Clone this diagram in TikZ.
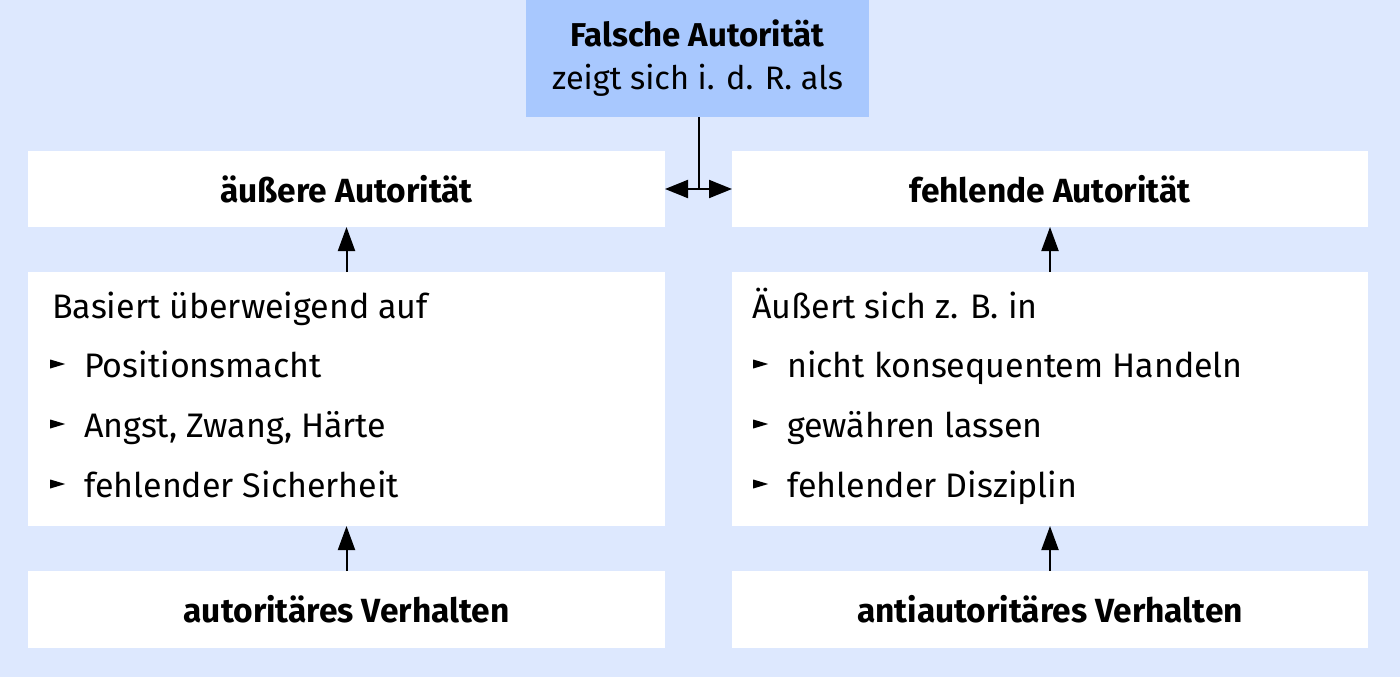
\documentclass[tikz,border=0pt]{standalone}
\usepackage{fontspec}
\setmainfont{Fira Sans}
\usetikzlibrary{arrows.meta}
\definecolor{bgblue}{RGB}{221,232,254}
\definecolor{topblue}{RGB}{168,200,254}
\newcommand\tri{\tikz[baseline=0pt]\fill (0,8.5pt) -- (15pt,13pt) -- (0,17.5pt) -- cycle;}
\begin{document}
\begin{tikzpicture}[x=1pt,y=-1pt,
  box/.style={fill=white,draw=none,inner sep=0pt,outer sep=0pt,minimum width=637pt},
  lbl/.style={font=\fontsize{33.5}{40}\selectfont\bfseries},
  txt/.style={font=\fontsize{34}{40}\selectfont,anchor=base west,inner sep=0pt},
  arr/.style={line width=2pt,-{Triangle[length=24pt,width=17pt]}},
  dbl/.style={line width=2pt,{Triangle[length=23pt,width=18pt]}-{Triangle[length=23pt,width=18pt]}}]
\fill[bgblue] (0,0) rectangle (1400,677);
\useasboundingbox (0,0) rectangle (1400,677);
\node[fill=topblue,inner sep=0pt,minimum width=343pt,minimum height=117pt,align=center,font=\fontsize{33}{43}\selectfont] (top) at (697.5,58.5)
  {\textbf{Falsche Autorität}\\ \fontsize{32.5}{43}\selectfont zeigt sich i. d. R. als};
\node[box,minimum height=76pt,lbl] (L1) at (346.5,189) {äußere Autorität};
\node[box,minimum height=76pt,lbl,minimum width=636pt] (R1) at (1050,189) {fehlende Autorität};
\node[box,minimum height=254pt] (L2) at (346.5,399) {};
\node[box,minimum height=254pt,minimum width=636pt] (R2) at (1050,399) {};
\node[box,minimum height=77pt,lbl] (L3) at (346.5,609.5) {autoritäres Verhalten};
\node[box,minimum height=77pt,lbl,minimum width=636pt] (R3) at (1050,609.5) {antiautoritäres Verhalten};
% left list
\node[txt] (l0) at (52,318) {Basiert überweigend auf};
\node[txt] (l1) at (50,377) {\tri\hspace{19pt}Positionsmacht};
\node[txt] (l2) at (50,437) {\tri\hspace{19pt}Angst, Zwang, Härte};
\node[txt] (l3) at (50,497) {\tri\hspace{19pt}fehlender Sicherheit};
% right list
\node[txt] (r0) at (752,318) {Äußert sich z. B. in};
\node[txt] (r1) at (753,377) {\tri\hspace{19pt}nicht konsequentem Handeln};
\node[txt] (r2) at (753,437) {\tri\hspace{19pt}gewähren lassen};
\node[txt] (r3) at (753,497) {\tri\hspace{19pt}fehlender Disziplin};
% connectors
\draw[arr] (L2) -- (L1);
\draw[arr] (L3) -- (L2);
\draw[arr] (R2.north -| R1) -- (R1);
\draw[arr] (R3) -- (R2);
\draw[dbl] (L1.east) -- (R1.west);
\draw[line width=2pt] (top.south) ++(1.5,0) -- ++(0,72);
\end{tikzpicture}
\end{document}
